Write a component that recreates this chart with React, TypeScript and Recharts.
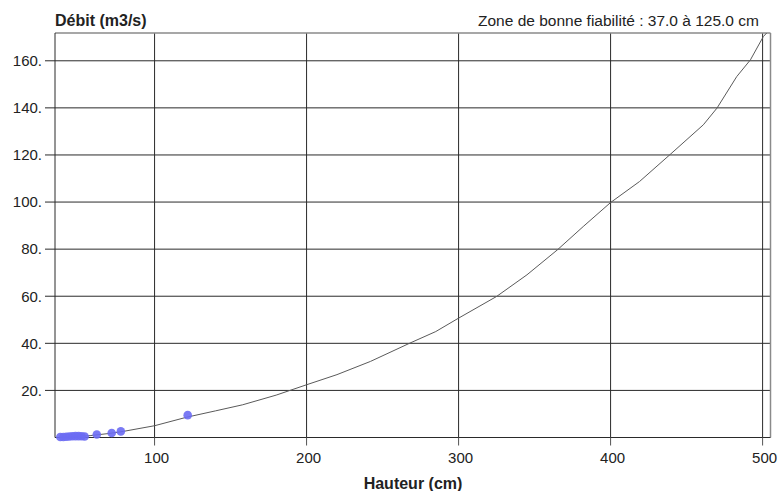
import React from 'react';
import {
  ComposedChart,
  Line,
  Scatter,
  XAxis,
  YAxis,
  CartesianGrid,
  ReferenceLine,
} from 'recharts';

// Rating curve (Hauteur cm -> Débit m3/s)
const CURVE_H = [35.7, 45, 57.6, 70, 79.5, 100, 121, 140, 158, 180, 200, 220, 242, 268, 285, 300, 325, 345, 365, 382, 400, 419, 439, 461, 470, 483, 492, 500.5, 502.7];
const CURVE_Q = [0, 0.3, 0.8, 1.7, 2.6, 5.0, 8.6, 11.3, 13.9, 18.0, 22.4, 26.7, 32.3, 40.1, 45.0, 50.7, 59.9, 69.1, 79.7, 89.6, 99.8, 108.7, 120.1, 132.8, 139.9, 153.3, 160.4, 170.3, 171.8];

// Gaugings
const OBS_H = [38, 40, 42, 44, 46, 48, 50, 52, 54, 62, 71.8, 77.8, 121.8];
const OBS_Q = [0.2, 0.2, 0.3, 0.4, 0.5, 0.6, 0.6, 0.5, 0.4, 1.3, 1.9, 2.6, 9.5];

const X_TICKS = [100, 200, 300, 400, 500];
const Y_TICKS = [20, 40, 60, 80, 100, 120, 140, 160];

const X_DOMAIN = [34.5, 505.2];
const Y_DOMAIN = [0, 171.8];

const TITLE_Y = 'Débit (m3/s)';
const TITLE_X = 'Hauteur (cm)';
const ZONE_TEXT = 'Zone de bonne fiabilité : 37.0 à 125.0 cm';

const curveData = CURVE_H.map((h, i) => ({ h, q: CURVE_Q[i] }));
const obsData = OBS_H.map((h, i) => ({ h, q: OBS_Q[i] }));

const FONT = '"Liberation Sans", Arial, sans-serif';
const GRID = '#2a2a2a';

const XTick = (props: any) => {
  const { x, y, payload } = props;
  return (
    <text x={x + 2} y={y} dy="0.71em" textAnchor="middle" fill="#222" fontSize={15} fontFamily={FONT}>
      {payload.value}
    </text>
  );
};

const YTick = (props: any) => {
  const { x, y, payload } = props;
  return (
    <text x={x} y={y} dy="0.355em" textAnchor="end" fill="#222" fontSize={15} fontFamily={FONT}>
      {`${payload.value}.`}
    </text>
  );
};

const Dot = (props: any) => {
  const { cx, cy } = props;
  return <circle cx={cx} cy={cy} r={4.3} fill="#6b6bf3" fillOpacity={0.9} />;
};

export default function App() {
  return (
    <div style={{ position: 'absolute', left: 0, top: 0, width: 779, height: 491, background: '#fff', fontFamily: FONT }}>
      <ComposedChart
        width={779}
        height={491}
        margin={{ top: 33, right: 8.5, bottom: 0, left: 0 }}
      >
        <CartesianGrid
          stroke={GRID}
          strokeWidth={1}
          horizontalValues={Y_TICKS}
          verticalValues={X_TICKS}
        />
        <XAxis
          type="number"
          dataKey="h"
          domain={X_DOMAIN}
          ticks={X_TICKS}
          height={53.5}
          tickSize={8}
          tickMargin={7}
          axisLine={{ stroke: GRID }}
          tickLine={{ stroke: '#555' }}
          tick={<XTick />}
        />
        <YAxis
          type="number"
          dataKey="q"
          domain={Y_DOMAIN}
          ticks={Y_TICKS}
          width={55}
          tickSize={10}
          tickMargin={3}
          axisLine={{ stroke: GRID }}
          tickLine={{ stroke: GRID }}
          tick={<YTick />}
        />
        <ReferenceLine y={Y_DOMAIN[1]} stroke="#8a8a8a" strokeWidth={1.5} />
        <ReferenceLine x={X_DOMAIN[1]} stroke="#8a8a8a" strokeWidth={1.5} />
        <Line
          data={curveData}
          dataKey="q"
          type="linear"
          stroke="#5a5a5a"
          strokeWidth={1}
          dot={false}
          activeDot={false}
          isAnimationActive={false}
        />
        <Scatter
          data={obsData}
          dataKey="q"
          shape={<Dot />}
          isAnimationActive={false}
        />
      </ComposedChart>
      <div style={{ position: 'absolute', left: 55, top: 13, fontSize: 16, lineHeight: '16px', fontWeight: 'bold', color: '#222', whiteSpace: 'nowrap' }}>
        {TITLE_Y}
      </div>
      <div style={{ position: 'absolute', left: 478, top: 13.4, fontSize: 15.5, lineHeight: '15.5px', color: '#222', whiteSpace: 'nowrap' }}>
        {ZONE_TEXT}
      </div>
      <div style={{ position: 'absolute', left: 313, width: 200, textAlign: 'center', top: 475.5, fontSize: 16, lineHeight: '16px', fontWeight: 'bold', color: '#222', whiteSpace: 'nowrap' }}>
        {TITLE_X}
      </div>
    </div>
  );
}
